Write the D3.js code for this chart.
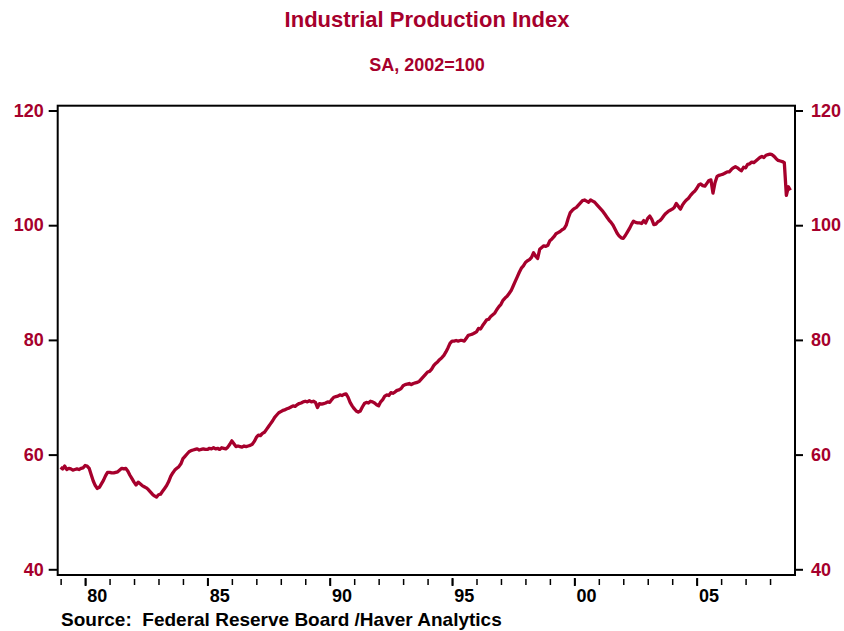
<html>
<script src='https://d3js.org/d3.v7.min.js'></script>
<style>
body {margin: 0; background: white;}
text {font-family: "Liberation Sans", Arial, sans-serif; font-weight: bold;}
</style>
<body onload='init()'>
<svg width=844 height=631></svg>
<script>
// monthly index, SA 2002=100, starting Jan 1979
var startYear = 1979;
var ip1970s = [57.8, 57.5, 58.0, 57.4, 57.6, 57.5, 57.3, 57.4, 57.5, 57.4, 57.6, 57.7];
var ip1980s = [
  58.1, 58.0, 57.6, 56.5, 55.4, 54.6, 54.1, 54.3, 54.9, 55.5, 56.3, 56.9, // 1980
  56.9, 56.8, 56.8, 56.9, 57.0, 57.3, 57.6, 57.5, 57.6, 57.1, 56.4, 55.8, // 1981
  55.2, 54.7, 55.2, 54.9, 54.6, 54.4, 54.2, 53.9, 53.5, 53.1, 52.8, 52.6, // 1982
  53.0, 53.1, 53.6, 54.1, 54.6, 55.3, 56.2, 56.8, 57.3, 57.6, 57.9, 58.4, // 1983
  59.3, 59.7, 60.1, 60.5, 60.7, 60.8, 60.9, 61.0, 60.8, 60.9, 61.0, 60.9, // 1984
  60.9, 61.1, 61.0, 61.2, 61.0, 61.1, 60.9, 61.2, 61.1, 61.0, 61.3, 61.8, // 1985
  62.4, 61.9, 61.4, 61.5, 61.4, 61.3, 61.5, 61.4, 61.5, 61.6, 61.8, 62.3, // 1986
  63.0, 63.4, 63.3, 63.7, 63.9, 64.4, 64.9, 65.4, 65.9, 66.5, 66.9, 67.3, // 1987
  67.5, 67.7, 67.8, 68.0, 68.1, 68.3, 68.5, 68.4, 68.7, 68.9, 69.0, 69.2, // 1988
  69.3, 69.2, 69.4, 69.2, 69.3, 69.1, 68.2, 68.9, 68.8, 68.9, 69.0, 69.2  // 1989
];
var ip1990s = [
  69.1, 69.6, 70.0, 70.1, 70.2, 70.4, 70.3, 70.5, 70.6, 70.0, 69.1, 68.5, // 1990
  68.0, 67.6, 67.4, 67.6, 68.3, 68.9, 69.1, 69.0, 69.3, 69.2, 69.0, 68.7, // 1991
  68.5, 69.2, 69.6, 70.2, 70.4, 70.3, 70.8, 70.7, 70.9, 71.2, 71.3, 71.5, // 1992
  72.0, 72.2, 72.3, 72.4, 72.2, 72.4, 72.5, 72.6, 72.8, 73.2, 73.6, 74.0, // 1993
  74.4, 74.5, 74.9, 75.5, 75.9, 76.2, 76.6, 76.9, 77.3, 77.9, 78.6, 79.4, // 1994
  79.8, 79.8, 79.9, 79.8, 79.9, 79.9, 79.8, 80.3, 80.8, 80.9, 81.0, 81.2, // 1995
  81.4, 82.0, 81.9, 82.5, 83.0, 83.5, 83.6, 84.1, 84.4, 84.7, 85.3, 85.8, // 1996
  86.2, 86.9, 87.3, 87.6, 88.1, 88.6, 89.4, 90.2, 91.0, 91.8, 92.5, 92.9, // 1997
  93.5, 93.8, 94.0, 94.4, 95.2, 94.6, 94.2, 95.8, 96.1, 96.4, 96.3, 96.5, // 1998
  97.3, 97.6, 98.0, 98.5, 98.7, 98.9, 99.2, 99.4, 100.0, 101.2, 102.2, 102.6 // 1999
];
var ip2000s = [
  102.9, 103.1, 103.5, 103.9, 104.3, 104.4, 104.2, 104.0, 104.4, 104.2, 104.0, 103.6, // 2000
  103.2, 102.8, 102.4, 101.9, 101.4, 100.9, 100.5, 100.0, 99.3, 98.6, 98.1, 97.8,     // 2001
  97.7, 98.2, 98.8, 99.4, 100.1, 100.7, 100.5, 100.4, 100.4, 100.3, 100.8, 100.4,     // 2002
  101.2, 101.6, 101.0, 100.1, 100.2, 100.6, 100.8, 101.2, 101.7, 102.1, 102.4, 102.6, // 2003
  102.8, 103.1, 103.8, 103.3, 102.8, 103.5, 104.0, 104.4, 104.7, 105.2, 105.6, 105.9, // 2004
  106.4, 107.0, 107.2, 106.9, 106.8, 107.3, 107.8, 107.9, 105.6, 107.4, 108.5, 108.7, // 2005
  108.8, 108.9, 109.1, 109.3, 109.3, 109.7, 110.0, 110.2, 110.0, 109.7, 109.5, 110.1, // 2006
  110.0, 110.6, 110.7, 111.0, 110.9, 111.2, 111.5, 111.8, 112.0, 111.8, 112.2, 112.3, // 2007
  112.4, 112.3, 112.0, 111.6, 111.3, 111.2, 111.1, 110.9, 105.2, 106.7, 106.1         // 2008
];

var yTicks = [40, 60, 80, 100, 120];
var labelYears = [1980, 1985, 1990, 1995, 2000, 2005];
var tickLabels = ["80", "85", "90", "95", "00", "05"];

var red = "#a6002c";

function init() {
  var svg = d3.select("svg");

  var left = 57.7, right = 795, top = 105.7, bottom = 575;

  var x = d3.scaleLinear().domain([1978.88, 2009.02]).range([left, right]);
  var y = d3.scaleLinear().domain([40, 120]).range([569.3, 110.5]);

  var values = ip1970s.concat(ip1980s, ip1990s, ip2000s);
  var data = values.map(function(v, i) { return {t: startYear + i / 12, v: v}; });

  // titles
  svg.append("text")
    .attr("x", 427).attr("y", 27)
    .attr("text-anchor", "middle")
    .style("font-size", "22px").style("fill", red)
    .text("Industrial Production Index");
  svg.append("text")
    .attr("x", 427).attr("y", 71)
    .attr("text-anchor", "middle")
    .style("font-size", "18px").style("fill", red)
    .text("SA, 2002=100");

  // frame
  svg.append("rect")
    .attr("x", left).attr("y", top)
    .attr("width", right - left).attr("height", bottom - top)
    .attr("fill", "none").attr("stroke", "black").attr("stroke-width", 2);

  // y axes both sides
  var yl = svg.append("g")
    .attr("transform", "translate(" + left + ",0)")
    .call(d3.axisLeft(y).tickValues(yTicks).tickSize(9).tickPadding(5));
  var yr = svg.append("g")
    .attr("transform", "translate(" + right + ",0)")
    .call(d3.axisRight(y).tickValues(yTicks).tickSize(8).tickPadding(8));
  [yl, yr].forEach(function(g) {
    g.select(".domain").remove();
    g.selectAll("line").attr("stroke", "black").attr("stroke-width", 2);
    g.selectAll("text")
      .attr("fill", red)
      .style("font-size", "18px")
      .style("font-family", "'Liberation Sans', Arial, sans-serif")
      .style("font-weight", "bold");
  });

  // x ticks, every year, longer every 5
  var minor = svg.append("g")
    .attr("transform", "translate(0,579)")
    .call(d3.axisBottom(x).tickValues(d3.range(1979, 2009)).tickSize(6).tickFormat(""));
  var major = svg.append("g")
    .attr("transform", "translate(0,578)")
    .call(d3.axisBottom(x).tickValues(labelYears).tickSize(8).tickFormat(""));
  [minor, major].forEach(function(g) {
    g.select(".domain").remove();
    g.selectAll("line").attr("stroke", "black").attr("stroke-width", 1.5);
  });
  major.selectAll("line").attr("stroke-width", 2);

  // year labels centered in the year
  svg.append("g").selectAll("text")
    .data(labelYears)
    .enter()
    .append("text")
    .attr("x", function(d) { return x(d + 0.5); })
    .attr("y", 602)
    .attr("text-anchor", "middle")
    .style("font-size", "18px")
    .text(function(d, i) { return tickLabels[i]; });

  // series
  var line = d3.line()
    .x(function(d) { return x(d.t); })
    .y(function(d) { return y(d.v); });
  svg.append("path")
    .datum(data)
    .attr("d", line)
    .attr("fill", "none")
    .attr("stroke", red)
    .attr("stroke-width", 3.3)
    .attr("stroke-linejoin", "round");

  svg.append("text")
    .attr("x", 61).attr("y", 626)
    .style("font-size", "19px")
    .style("white-space", "pre")
    .attr("xml:space", "preserve")
    .text("Source:  Federal Reserve Board /Haver Analytics");
}
</script>
</body>
</html>
